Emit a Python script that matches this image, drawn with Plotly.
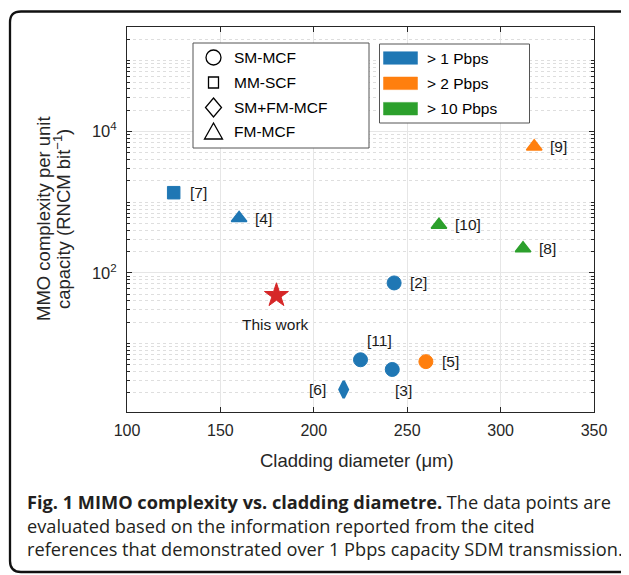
import numpy as np
import plotly.graph_objects as go

# ---------------- data ----------------
refs = ["[7]", "[4]", "[9]", "[10]", "[8]", "[2]", "This work", "[11]", "[3]", "[5]", "[6]"]
cladding_um = [125, 160, 318, 267, 312, 243, 180, 225, 242, 260, 216]
mimo_complexity = [1360, 593, 6120, 476, 222, 72, 48, 5.9, 4.3, 5.55, 2.24]
fiber_type = ["MM-SCF", "FM-MCF", "FM-MCF", "FM-MCF", "FM-MCF", "SM-MCF", "This work",
              "SM-MCF", "SM-MCF", "SM-MCF", "SM+FM-MCF"]
capacity_class = ["> 1 Pbps", "> 1 Pbps", "> 2 Pbps", "> 10 Pbps", "> 10 Pbps", "> 1 Pbps",
                  "This work", "> 1 Pbps", "> 1 Pbps", "> 2 Pbps", "> 1 Pbps"]

fiber_types = ["SM-MCF", "MM-SCF", "SM+FM-MCF", "FM-MCF"]
capacity_classes = ["> 1 Pbps", "> 2 Pbps", "> 10 Pbps"]

x_ticks = [100, 150, 200, 250, 300, 350]
y_ticks = [1e2, 1e4]
y_tick_labels = ["10<sup>2</sup>", "10<sup>4</sup>"]

x_title = "Cladding diameter (μm)"
y_title_lines = ["MMO complexity per unit", "capacity (RNCM bit<sup>−1</sup>)"]
caption_lines = [
    "<b>Fig. 1 MIMO complexity vs. cladding diametre.</b> The data points are",
    "evaluated based on the information reported from the cited",
    "references that demonstrated over 1 Pbps capacity SDM transmission.",
]

# ---------------- styles ----------------
symbol_map = {"SM-MCF": "circle", "MM-SCF": "square", "SM+FM-MCF": "diamond-tall",
              "FM-MCF": "triangle-up", "This work": "star"}
size_map = {"SM-MCF": 14, "MM-SCF": 12.5, "SM+FM-MCF": 12, "FM-MCF": 13.5, "This work": 18}
edge_map = {"SM-MCF": 1, "MM-SCF": 1, "SM+FM-MCF": 2.5, "FM-MCF": 1.5, "This work": 1}
color_map = {"> 1 Pbps": "#1f77b4", "> 2 Pbps": "#ff7f0e", "> 10 Pbps": "#2ca02c",
             "This work": "#d62728"}
label_place = {"[11]": ("center", 19, 19), "[3]": ("center", 11, -21),
               "[6]": ("right", -16, 0), "This work": ("center", -1, -29)}
default_place = ("left", 14, 0)

AX = "#262626"
FONT = "Liberation Sans, Arial, sans-serif"
# the page is shown with an 8px body margin, so the figure is sized to fit the window
OFF = 8
W_FIG, H_FIG = 629 - OFF, 575 - OFF
PL, PR, PT, PB = 127, 594, 27, 412          # plot area in window pixels
L, T = PL - OFF, PT - OFF
R, B = W_FIG - (PR - OFF), H_FIG - (PB - OFF)
PW, PH = PR - PL, PB - PT


def px(x):
    return (x - PL) / PW


def py(y):
    return (PB - y) / PH


fig = go.Figure()
fig.add_trace(go.Scatter(
    x=cladding_um, y=mimo_complexity, mode="markers",
    marker=dict(symbol=[symbol_map[f] for f in fiber_type],
                size=[size_map[f] for f in fiber_type],
                color=[color_map[c] for c in capacity_class], opacity=1,
                line=dict(width=[edge_map[f] for f in fiber_type],
                          color=[color_map[c] for c in capacity_class])),
    showlegend=False, hoverinfo="skip"))

annotations = []
for r, xv, yv in zip(refs, cladding_um, mimo_complexity):
    anchor, dx, dy = label_place.get(r, default_place)
    annotations.append(dict(x=xv, y=np.log10(yv), xref="x", yref="y", text=r, showarrow=False,
                            xanchor=anchor, yanchor="middle", xshift=dx, yshift=dy,
                            font=dict(family=FONT, size=15.5, color="#1a1a1a")))

shapes = []
# outer rounded frame
fl, ft, fr, fb, rad = 10, 11.5, 632, 572, 11
path = (f"M{px(fl)},{py(ft+rad)} L{px(fl)},{py(fb-rad)} Q{px(fl)},{py(fb)} {px(fl+rad)},{py(fb)} "
        f"L{px(fr-rad)},{py(fb)} Q{px(fr)},{py(fb)} {px(fr)},{py(fb-rad)} "
        f"L{px(fr)},{py(ft+rad)} Q{px(fr)},{py(ft)} {px(fr-rad)},{py(ft)} "
        f"L{px(fl+rad)},{py(ft)} Q{px(fl)},{py(ft)} {px(fl)},{py(ft+rad)} Z")
shapes.append(dict(type="path", xref="paper", yref="paper", path=path,
                   line=dict(color="#111111", width=2.3), layer="above"))

# legend 1 (marker shapes)
shapes.append(dict(type="rect", xref="paper", yref="paper", x0=px(193), x1=px(369), y0=py(43), y1=py(148),
                   fillcolor="white", line=dict(color="#555555", width=1), layer="above"))
rows1 = [57.5, 82.5, 107.5, 132]
mx = 213.5
lw = 1.3
for name, cy in zip(fiber_types, rows1):
    sym = symbol_map[name]
    if sym == "circle":
        shapes.append(dict(type="circle", xref="paper", yref="paper", x0=px(mx - 7.5), x1=px(mx + 7.5),
                           y0=py(cy - 7.5), y1=py(cy + 7.5), line=dict(color="black", width=lw), layer="above"))
    elif sym == "square":
        shapes.append(dict(type="rect", xref="paper", yref="paper", x0=px(mx - 5), x1=px(mx + 5),
                           y0=py(cy - 5.5), y1=py(cy + 5.5), line=dict(color="black", width=lw), layer="above"))
    elif sym == "diamond-tall":
        p = (f"M{px(mx)},{py(cy-9.5)} L{px(mx+8)},{py(cy)} L{px(mx)},{py(cy+9.5)} L{px(mx-8)},{py(cy)} Z")
        shapes.append(dict(type="path", xref="paper", yref="paper", path=p,
                           line=dict(color="black", width=lw), layer="above"))
    else:
        p = (f"M{px(mx)},{py(cy-9)} L{px(mx+9)},{py(cy+7)} L{px(mx-9)},{py(cy+7)} Z")
        shapes.append(dict(type="path", xref="paper", yref="paper", path=p,
                           line=dict(color="black", width=lw), layer="above"))
    annotations.append(dict(x=px(231.5), y=py(cy), xref="paper", yref="paper", text=name, showarrow=False,
                            xanchor="left", yanchor="middle", font=dict(family=FONT, size=15.5, color="black")))

# legend 2 (colour swatches)
shapes.append(dict(type="rect", xref="paper", yref="paper", x0=px(379.5), x1=px(529.5), y0=py(44), y1=py(123),
                   fillcolor="white", line=dict(color="#555555", width=1), layer="above"))
rows2 = [58, 83.3, 108.7]
for name, cy in zip(capacity_classes, rows2):
    shapes.append(dict(type="rect", xref="paper", yref="paper", x0=px(383.5), x1=px(417.5),
                       y0=py(cy - 6.3), y1=py(cy + 6.3), fillcolor=color_map[name],
                       line=dict(color=color_map[name], width=0.5), layer="above"))
    annotations.append(dict(x=px(425), y=py(cy), xref="paper", yref="paper", text=name, showarrow=False,
                            xanchor="left", yanchor="middle", font=dict(family=FONT, size=15.5, color="black")))

# axis titles
annotations.append(dict(x=px(357), y=py(460), xref="paper", yref="paper", text=x_title, showarrow=False,
                        xanchor="center", yanchor="middle", font=dict(family=FONT, size=18.5, color=AX)))
for txt, xc in zip(y_title_lines, [43, 62]):
    annotations.append(dict(x=px(xc), y=py(219), xref="paper", yref="paper", text=txt, showarrow=False,
                            textangle=-90, xanchor="center", yanchor="middle",
                            font=dict(family=FONT, size=18.5, color=AX)))

# caption
for txt, cy in zip(caption_lines, [502, 525.5, 549]):
    annotations.append(dict(x=px(25), y=py(cy), xref="paper", yref="paper", text=txt, showarrow=False,
                            xanchor="left", yanchor="middle",
                            font=dict(family="Open Sans, Noto Sans, sans-serif", size=18.2, color="#231f20")))

fig.update_layout(
    width=W_FIG, height=H_FIG,
    margin=dict(l=L, r=R, t=T, b=B, pad=0),
    paper_bgcolor="white", plot_bgcolor="white",
    showlegend=False,
    shapes=shapes, annotations=annotations,
    font=dict(family=FONT, color=AX),
    xaxis=dict(range=[100, 350], tickmode="array", tickvals=x_ticks, ticks="inside", ticklen=5,
               tickcolor=AX, showline=True, linecolor=AX, linewidth=1, mirror="ticks",
               showgrid=True, gridcolor="#e6e6e6", gridwidth=1, zeroline=False,
               tickfont=dict(family=FONT, size=16, color=AX), ticklabelstandoff=4),
    yaxis=dict(type="log", range=[0.032, np.log10(3e5)], tickmode="array", tickvals=y_ticks,
               ticktext=y_tick_labels, ticks="inside", ticklen=5, tickcolor=AX,
               showline=True, linecolor=AX, linewidth=1, mirror="ticks",
               showgrid=True, gridcolor="#e6e6e6", gridwidth=1, zeroline=False,
               tickfont=dict(family=FONT, size=16.5, color=AX), ticklabelstandoff=6,
               minor=dict(tickmode="linear", dtick="D1", ticks="inside", ticklen=3, tickcolor=AX,
                          showgrid=True, gridcolor="#dedede", griddash="dot", gridwidth=1)),
)

fig.write_html("out.html")
